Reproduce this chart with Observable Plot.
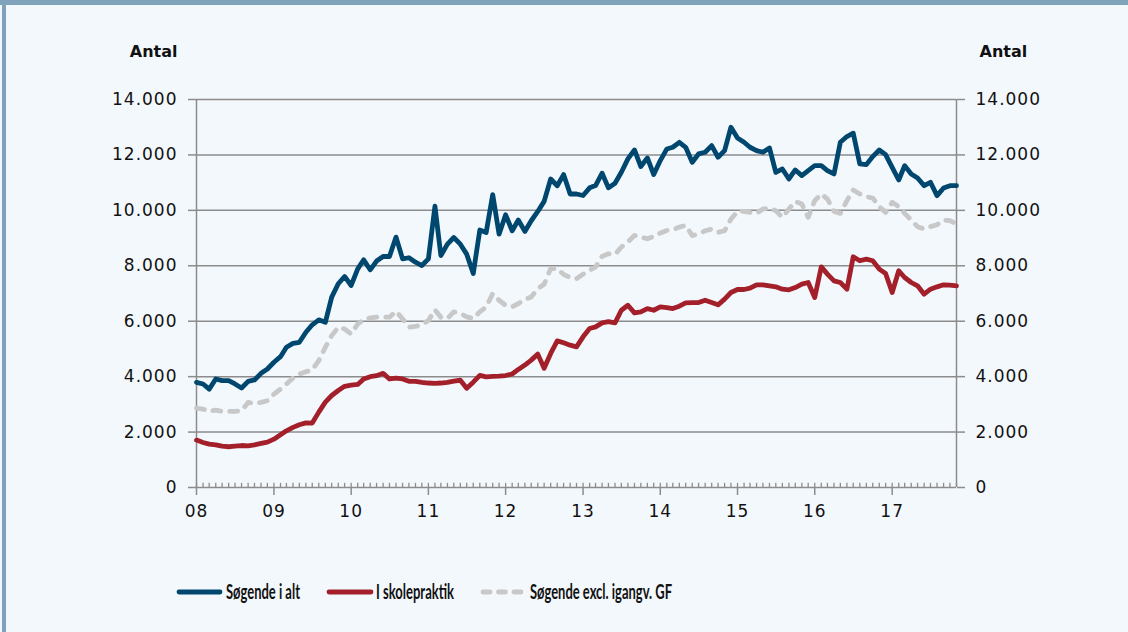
<!DOCTYPE html>
<html><head><meta charset="utf-8">
<script src="https://cdn.jsdelivr.net/npm/d3@7"></script>
<script src="https://cdn.jsdelivr.net/npm/@observablehq/plot@0.6"></script>
<style>
html,body{margin:0;padding:0;background:#f3f8fd;}
#frame{position:relative;width:1128px;height:632px;background:#f3f8fd;overflow:hidden;}
#topbar{position:absolute;left:0;top:0;width:1128px;height:5px;background:#7fa3ba;}
#leftbar{position:absolute;left:2px;top:0;width:4px;height:632px;background:#7fa3ba;}
#chart{position:absolute;left:0;top:0;}
#chart svg g[aria-label="tick label"] text{letter-spacing:1px;}
#chart svg g[aria-label="x-axis tick label"] text, #chart svg g[aria-label="y-axis tick label"] text{letter-spacing:1px;}
#legend{position:absolute;left:0;top:572px;}
</style></head><body>
<div id="frame"><div id="chart"></div><svg id="legend" width="1128" height="40"></svg><div id="topbar"></div><div id="leftbar"></div></div>
<script>
// Monthly data, Jan 2008 .. Nov 2017
const startYear = 2008;
const seriesNames = ["Søgende i alt", "I skolepraktik", "Søgende excl. igangv. GF"];
const soegendeIAlt = [3795,3735,3550,3915,3855,3855,3735,3590,3830,3880,4120,4275,
4520,4720,5060,5200,5240,5600,5870,6050,5960,6870,7350,7615,
7290,7890,8215,7855,8170,8335,8335,9035,8250,8290,8130,8010,
8250,10150,8370,8780,9020,8780,8420,7720,9290,9200,10565,9140,
9840,9265,9650,9240,9625,9960,10325,11130,10890,11290,10590,10590,
10536,10812,10896,11340,10812,10980,11376,11856,12180,11580,11892,11292,
11796,12216,12276,12456,12276,11736,12036,12096,12337,11916,12157,13000,
12615,12458,12277,12157,12096,12253,11373,11494,11132,11458,11253,11434,
11614,11614,11434,11313,12458,12663,12783,11675,11650,11940,12180,12012,
11554,11096,11614,11313,11169,10891,11012,10530,10807,10891,10891];
const iSkolepraktik = [1710,1625,1565,1540,1490,1470,1490,1515,1505,1540,1590,1635,
1745,1900,2045,2170,2265,2330,2325,2720,3080,3320,3500,3650,
3690,3720,3915,4000,4035,4120,3915,3950,3915,3830,3830,3795,
3770,3760,3770,3795,3840,3870,3580,3800,4045,3990,4010,4020,
4040,4095,4260,4416,4596,4812,4300,4836,5292,5220,5136,5076,
5436,5736,5796,5940,5988,5940,6396,6576,6300,6336,6456,6396,
6516,6492,6456,6540,6660,6670,6675,6760,6675,6590,6795,7035,
7144,7144,7192,7313,7313,7276,7240,7156,7132,7216,7337,7397,
6855,7963,7698,7457,7397,7156,8325,8180,8240,8180,7880,7722,
7035,7819,7577,7397,7276,6975,7156,7240,7313,7300,7276];
const soegendeExclGF = [2866,2830,2745,2795,2745,2745,2745,2770,3070,3035,3070,3130,
3370,3550,3735,3950,4095,4180,4240,4580,5060,5480,5780,5720,
5540,5900,6050,6120,6145,6145,6145,6360,6085,5780,5810,5880,
6025,6410,6145,6100,6336,6276,6156,6096,6336,6516,6996,6756,
6576,6516,6636,6780,6876,7176,7332,7896,7896,7692,7572,7536,
7692,7836,7956,8340,8436,8412,8676,8856,9096,9036,8976,9060,
9180,9276,9300,9396,9456,9090,9144,9265,9325,9205,9265,9686,
9964,9964,9928,9892,10048,10084,9988,9747,10048,10325,10229,9747,
10349,10590,10409,9964,9892,10349,10735,10590,10494,10446,10132,9928,
10289,10132,9892,9650,9410,9325,9410,9482,9650,9626,9506];
const yTicks = [0,2000,4000,6000,8000,10000,12000,14000];
const yTickLabels = ["0","2.000","4.000","6.000","8.000","10.000","12.000","14.000"];
const xYears = [2008,2009,2010,2011,2012,2013,2014,2015,2016,2017];
const xTickLabels = ["08","09","10","11","12","13","14","15","16","17"];
const yTitle = "Antal";

const colors = ["#00476f", "#a3202b", "#c8c8c8"];
const gridColor = "#8c8c8c";

const seriesValues = [soegendeIAlt, iSkolepraktik, soegendeExclGF];
const rows = seriesValues.map((vals, s) => vals.map((v, i) => ({series: seriesNames[s], date: new Date(startYear, i, 1), value: v})));
const nMonths = soegendeIAlt.length;
const xDomain = [new Date(startYear, 0, 1), new Date(startYear, nMonths - 1, 1)];
const monthDates = d3.range(nMonths).map(i => new Date(startYear, i, 1));
const yearDates = xYears.map(y => new Date(y, 0, 1));
const yLab = new Map(yTicks.map((t, i) => [t, yTickLabels[i]]));
const xLab = new Map(xYears.map((y, i) => [y, xTickLabels[i]]));

const chart = Plot.plot({
  width: 1128, height: 545,
  marginLeft: 196, marginRight: 172, marginTop: 99, marginBottom: 58,
  style: {background: "transparent", fontFamily: "'DejaVu Sans', sans-serif", fontSize: "17px", color: "#111", overflow: "visible"},
  x: {type: "time", domain: xDomain},
  y: {domain: [0, 14000]},
  marks: [
    Plot.ruleY(yTicks, {stroke: gridColor, strokeWidth: 1.5}),
    Plot.ruleX(xDomain, {y1: 0, y2: 14000, stroke: gridColor, strokeWidth: 1.5}),
    Plot.ruleX(monthDates, {y1: 0, y2: 150, stroke: gridColor, strokeWidth: 1.3}),
    Plot.axisY({anchor: "left", ticks: yTicks, tickFormat: d => yLab.get(d), tickSize: 8, tickPadding: 11, stroke: gridColor, strokeWidth: 1.5, fill: "#111", label: null}),
    Plot.axisY({anchor: "right", ticks: yTicks, tickFormat: d => yLab.get(d), tickSize: 8, tickPadding: 11, stroke: gridColor, strokeWidth: 1.5, fill: "#111", label: null}),
    Plot.axisX({ticks: yearDates, tickFormat: d => xLab.get(d.getFullYear()), tickSize: 8, tickPadding: 9, stroke: gridColor, strokeWidth: 1.5, fill: "#111", label: null}),
    Plot.text([yTitle], {frameAnchor: "top-left", dx: -19, dy: -54, textAnchor: "end", fontWeight: "bold", fontSize: 16}),
    Plot.text([yTitle], {frameAnchor: "top-right", dx: 23, dy: -54, textAnchor: "start", fontWeight: "bold", fontSize: 16}),
    Plot.lineY(rows[2], {x: "date", y: "value", stroke: colors[2], strokeWidth: 4.8, strokeDasharray: "8 9", strokeLinecap: "round", strokeLinejoin: "round"}),
    Plot.lineY(rows[1], {x: "date", y: "value", stroke: colors[1], strokeWidth: 4.8, strokeLinejoin: "round"}),
    Plot.lineY(rows[0], {x: "date", y: "value", stroke: colors[0], strokeWidth: 4.8, strokeLinejoin: "round"})
  ]
});
document.getElementById("chart").appendChild(chart);
chart.querySelectorAll("g[aria-label$='tick label'] text").forEach(t => t.style.letterSpacing = "1px");

// legend
const lg = d3.select("#legend");
const legendItems = [
  {x1: 179, x2: 220, tx: 226, tl: 74, dash: null},
  {x1: 329, x2: 371, tx: 376, tl: 78, dash: null},
  {x1: 483, x2: 521, tx: 530, tl: 142, dash: "7 8.5"}
];
legendItems.forEach((it, s) => {
  lg.append("line").attr("x1", it.x1).attr("x2", it.x2).attr("y1", 20).attr("y2", 20)
    .attr("stroke", colors[s]).attr("stroke-width", 4.8).attr("stroke-linecap", "round")
    .attr("stroke-dasharray", it.dash);
  lg.append("text").attr("x", it.tx).attr("y", 27).text(seriesNames[s])
    .attr("font-family", "Lato, sans-serif").attr("font-weight", "bold").attr("font-size", 20)
    .attr("fill", "#111").attr("textLength", it.tl).attr("lengthAdjust", "spacingAndGlyphs");
});
</script>
</body></html>
